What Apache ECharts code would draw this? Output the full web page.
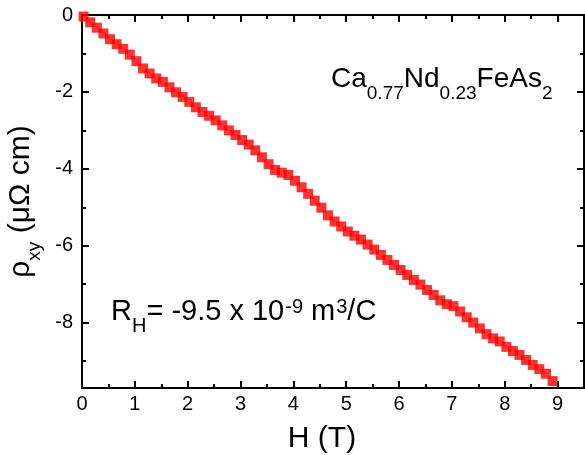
<!DOCTYPE html>
<html><head><meta charset="utf-8">
<script src="https://cdn.jsdelivr.net/npm/echarts@6/dist/echarts.min.js"></script>
<style>html,body{margin:0;padding:0;background:#fff}#c{width:585px;height:455px}</style>
</head><body><div id="c"></div>
<script>
const fieldT = [0.03,0.155,0.28,0.405,0.53,0.655,0.78,0.905,1.03,1.155,1.28,1.405,1.53,1.655,1.78,1.905,2.03,2.155,2.28,2.405,2.53,2.655,2.78,2.905,3.03,3.155,3.28,3.405,3.53,3.655,3.78,3.905,4.03,4.155,4.28,4.405,4.53,4.655,4.78,4.905,5.03,5.155,5.28,5.405,5.53,5.655,5.78,5.905,6.03,6.155,6.28,6.405,6.53,6.655,6.78,6.905,7.03,7.155,7.28,7.405,7.53,7.655,7.78,7.905,8.03,8.155,8.28,8.405,8.53,8.655,8.78,8.905];
const rhoXY = [-0.04,-0.19,-0.33,-0.48,-0.63,-0.76,-0.88,-1.03,-1.20,-1.39,-1.52,-1.65,-1.74,-1.88,-2.01,-2.13,-2.26,-2.40,-2.52,-2.62,-2.74,-2.87,-3.00,-3.12,-3.25,-3.37,-3.52,-3.70,-3.88,-4.03,-4.10,-4.16,-4.31,-4.48,-4.65,-4.83,-5.01,-5.21,-5.37,-5.50,-5.63,-5.74,-5.84,-5.97,-6.10,-6.24,-6.37,-6.50,-6.63,-6.76,-6.89,-7.01,-7.15,-7.28,-7.42,-7.52,-7.57,-7.71,-7.86,-8.00,-8.15,-8.30,-8.41,-8.49,-8.63,-8.74,-8.84,-8.97,-9.10,-9.21,-9.33,-9.52];
const xMajorTicks = [0,1,2,3,4,5,6,7,8,9];
const xMinorTicks = [0.5,1.5,2.5,3.5,4.5,5.5,6.5,7.5,8.5];
const yMajorTicks = [0,-2,-4,-6,-8];
const yMinorTicks = [-1,-3,-5,-7,-9];
const xRange = [0, 9.5];
const yRange = [-9.7, 0];

const FONT = 'Liberation Sans, Arial, sans-serif';
const black = '#000';

function mkX(pos, ticks, len, labels) {
  return {
    type: 'value', position: pos, min: xRange[0], max: xRange[1],
    axisLine: { show: true, onZero: false, lineStyle: { color: black, width: 2 } },
    axisTick: { show: true, inside: true, length: len, customValues: ticks, lineStyle: { color: black, width: 2 } },
    axisLabel: labels ? { show: true, customValues: xMajorTicks, fontSize: 20, color: black, fontFamily: FONT, margin: 6 } : { show: false },
    splitLine: { show: false }
  };
}
function mkY(pos, ticks, len, labels) {
  return {
    type: 'value', position: pos, min: yRange[0], max: yRange[1],
    axisLine: { show: true, onZero: false, lineStyle: { color: black, width: 2 } },
    axisTick: { show: true, inside: true, length: len, customValues: ticks, lineStyle: { color: black, width: 2 } },
    axisLabel: labels ? { show: true, customValues: yMajorTicks, fontSize: 20, color: black, fontFamily: FONT, margin: 9 } : { show: false },
    splitLine: { show: false }
  };
}

const xAxes = [mkX('bottom', xMajorTicks, 7, true), mkX('bottom', xMinorTicks, 4, false), mkX('top', xMajorTicks, 7, false), mkX('top', xMinorTicks, 4, false)];
Object.assign(xAxes[0], { name: 'H (T)', nameLocation: 'middle', nameGap: 36, nameTextStyle: { fontSize: 30, color: black, fontFamily: FONT, padding: [0, 22, 0, 0] } });
const yAxes = [mkY('left', yMajorTicks, 7, true), mkY('left', yMinorTicks, 4, false), mkY('right', yMajorTicks, 7, false), mkY('right', yMinorTicks, 4, false)];
Object.assign(yAxes[0], {
  name: '{r|ρ}{s|xy}{r| (μΩ cm)}', nameLocation: 'middle', nameRotate: 90, nameGap: 38,
  nameTextStyle: { color: black, fontFamily: FONT, rich: {
    r: { fontSize: 30, lineHeight: 32, verticalAlign: 'top', fontFamily: FONT, color: black },
    s: { fontSize: 19, lineHeight: 19, padding: [20, 0, 0, 0], verticalAlign: 'top', fontFamily: FONT, color: black }
  } }
});

const richFormula = {
  m: { fontSize: 28, lineHeight: 31, verticalAlign: 'top', fontFamily: FONT, fill: black },
  s: { fontSize: 19, lineHeight: 19, padding: [19, 0, 0, 0], verticalAlign: 'top', fontFamily: FONT, fill: black }
};
const richHall = {
  m: { fontSize: 29, lineHeight: 32, verticalAlign: 'top', fontFamily: FONT, fill: black },
  s: { fontSize: 20, lineHeight: 20, padding: [19, 0, 0, 0], verticalAlign: 'top', fontFamily: FONT, fill: black },
  u: { fontSize: 20, lineHeight: 20, padding: [0, 0, 0, 1], verticalAlign: 'top', fontFamily: FONT, fill: black }
};

const chart = echarts.init(document.getElementById('c'), null, { renderer: 'canvas' });
chart.setOption({
  animation: false,
  backgroundColor: '#fff',
  grid: { left: 82, right: 1, top: 15, bottom: 67, containLabel: false, outerBoundsMode: 'none' },
  xAxis: xAxes,
  yAxis: yAxes,
  series: [{
    type: 'scatter', xAxisIndex: 0, yAxisIndex: 0,
    symbol: 'rect', symbolSize: 10,
    itemStyle: { color: '#ff0000' },
    data: fieldT.map((h, i) => [h, rhoXY[i]]),
    z: 5
  }],
  graphic: [
    { type: 'text', left: 331, top: 65, style: { text: '{m|Ca}{s|0.77}{m|Nd}{s|0.23}{m|FeAs}{s|2}', rich: richFormula } },
    { type: 'text', left: 111, top: 297, style: { text: '{m|R}{s|H}{m|= -9.5 x 10}{u|-9}{m| m}{u|3}{m|/C}', rich: richHall } }
  ]
});
</script>
</body></html>
